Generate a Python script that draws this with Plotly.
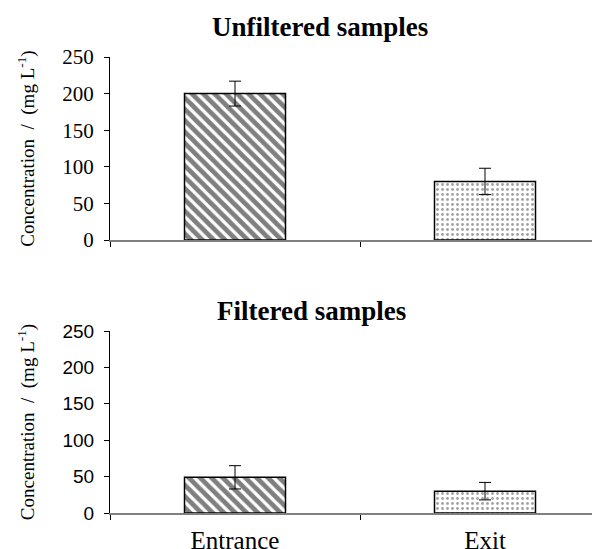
import plotly.graph_objects as go

categories = ["Entrance", "Exit"]
unfiltered = [200, 80]
unfiltered_err = [17, 18]
filtered = [49, 30]
filtered_err = [16, 12]
y_ticks = [0, 50, 100, 150, 200, 250]

W, H = 592, 549
serif = "Liberation Serif"
sans = "Liberation Sans"

fig = go.Figure()

patterns = [
    dict(shape="\\", fgcolor="black", bgcolor="white", size=8, solidity=0.6),
    dict(shape=".", fgcolor="#444444", bgcolor="white", size=5, solidity=0.25),
]

for i, cat in enumerate(categories):
    fig.add_trace(go.Bar(
        x=[cat], y=[unfiltered[i]], xaxis="x", yaxis="y",
        marker=dict(color="white", pattern=patterns[i], line=dict(color="black", width=1.5)),
        error_y=dict(type="data", array=[unfiltered_err[i]], color="black", thickness=1, width=6),
        width=0.404, showlegend=False,
    ))
    fig.add_trace(go.Bar(
        x=[cat], y=[filtered[i]], xaxis="x2", yaxis="y2",
        marker=dict(color="white", pattern=patterns[i], line=dict(color="black", width=1.5)),
        error_y=dict(type="data", array=[filtered_err[i]], color="black", thickness=1, width=6),
        width=0.404, showlegend=False,
    ))

xdom = [110 / W, 1.0]
top_dom = [1 - 240 / H, 1 - 57 / H]
bot_dom = [1 - 513 / H, 1 - 331 / H]

xcommon = dict(
    domain=xdom, type="category", categoryorder="array", categoryarray=categories,
    range=[-0.5, 1.428], showline=True, linecolor="#808080", linewidth=2,
    ticks="outside", tickson="boundaries", ticklen=5, tickcolor="black", tickwidth=1,
    showgrid=False, zeroline=False, fixedrange=True, automargin=False,
)
ytitle = "Concentration  /  (mg L<sup>-1</sup>)"
ycommon = dict(
    range=[0, 250], tickvals=y_ticks, showline=True, linecolor="black", linewidth=1,
    ticks="outside", ticklen=5, tickcolor="black", showgrid=False, zeroline=False,
    automargin=False, ticklabelstandoff=6,
)

fig.update_layout(
    width=W, height=H, margin=dict(l=0, r=0, t=0, b=0, autoexpand=False),
    paper_bgcolor="white", plot_bgcolor="white", barmode="overlay",
    font=dict(family=serif, color="black"),
    xaxis=dict(xcommon, anchor="y", showticklabels=False),
    yaxis=dict(ycommon, domain=top_dom, anchor="x",
               tickfont=dict(family=serif, size=21, color="black"),
               title=dict(text=ytitle, font=dict(family=serif, size=19, color="black"), standoff=22)),
    xaxis2=dict(xcommon, anchor="y2", showticklabels=True, ticklabelstandoff=4,
                tickfont=dict(family=serif, size=25, color="black")),
    yaxis2=dict(ycommon, domain=bot_dom, anchor="x2",
                tickfont=dict(family=sans, size=19, color="black"),
                title=dict(text=ytitle, font=dict(family=serif, size=19, color="black"), standoff=22)),
    annotations=[
        dict(text="<b>Unfiltered samples</b>", x=320 / W, y=1 - 27 / H, xref="paper", yref="paper",
             xanchor="center", yanchor="middle",
             showarrow=False, font=dict(family=serif, size=27, color="black")),
        dict(text="<b>Filtered samples</b>", x=312 / W, y=1 - 311 / H, xref="paper", yref="paper",
             xanchor="center", yanchor="middle",
             showarrow=False, font=dict(family=serif, size=27, color="black")),
    ],
)

fig.write_html("out.html")
